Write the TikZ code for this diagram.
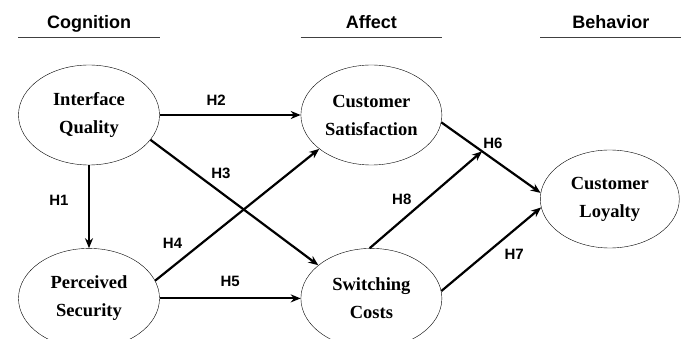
\documentclass[tikz,border=0pt]{standalone}
\usepackage{fontspec}
\setmainfont{Liberation Serif}
\newfontfamily\labelfont{Liberation Sans}
\usetikzlibrary{shapes.geometric, arrows.meta, positioning}
\tikzstyle{construct} = [ellipse, draw=black, thin, minimum width=141pt, minimum height=100pt, inner sep=0pt, align=center, font=\fontsize{18.5}{28}\selectfont\bfseries]
\tikzstyle{heading} = [minimum width=141pt, inner xsep=0pt, inner ysep=5pt, text depth=4pt, font=\labelfont\fontsize{18}{20}\selectfont\bfseries]
\tikzstyle{rule} = [draw=black!75, line width=1.3pt]
\tikzstyle{hyp} = [font=\labelfont\fontsize{15}{17}\selectfont\bfseries]
\tikzstyle{arrow} = [line width=2.2pt, ->, >={Stealth[length=10pt, width=8pt]}]

\begin{document}
\begin{tikzpicture}[x=1pt, y=1pt]
\useasboundingbox (0,0) rectangle (681,-339);

\node (iq) [construct] at (89,-115) {Interface\\Quality};
\node (cs) [construct, right=141pt of iq] {Customer\\Satisfaction};
\node (ps) [construct, below=83pt of iq] {Perceived\\Security};
\node (sc) [construct, right=141pt of ps] {Switching\\Costs};
\node (cl) [construct, minimum width=139pt, minimum height=98pt, right=98pt of cs, yshift=-84pt] {Customer\\Loyalty};

\node (cog) [heading, above=27pt of iq] {Cognition};
\node (aff) [heading, above=27pt of cs] {Affect};
\node (beh) [heading, right=98pt of aff] {Behavior};
\draw [rule] (cog.south west) -- (cog.south east);
\draw [rule] (aff.south west) -- (aff.south east);
\draw [rule] (beh.south west) -- (beh.south east);

\draw [arrow] (iq) -- node[hyp, pos=0.42, left=16pt] {H1} (ps);
\draw [arrow] (iq) -- node[hyp, pos=0.4, above=5pt] {H2} (cs);
\draw [arrow] (iq.-22) -- node[hyp, pos=0.42, above=9pt] {H3} (sc.148);
\draw [arrow] (ps.15) -- node[hyp, pos=0.2, above left=2pt] {H4} (cs.213);
\draw [arrow] (ps) -- node[hyp, pos=0.5, above=7pt] {H5} (sc);
\draw [arrow] (cs.-6) -- coordinate[pos=0.41](m6) node[hyp, pos=0.52, above=6pt] {H6} (cl.175);
\draw [arrow] (sc.6) -- node[hyp, pos=0.73, below=15pt] {H7} (cl.187);
\draw [arrow] (sc.92) -- node[hyp, pos=0.5, left=10pt] {H8} (m6);

\end{tikzpicture}
\end{document}
